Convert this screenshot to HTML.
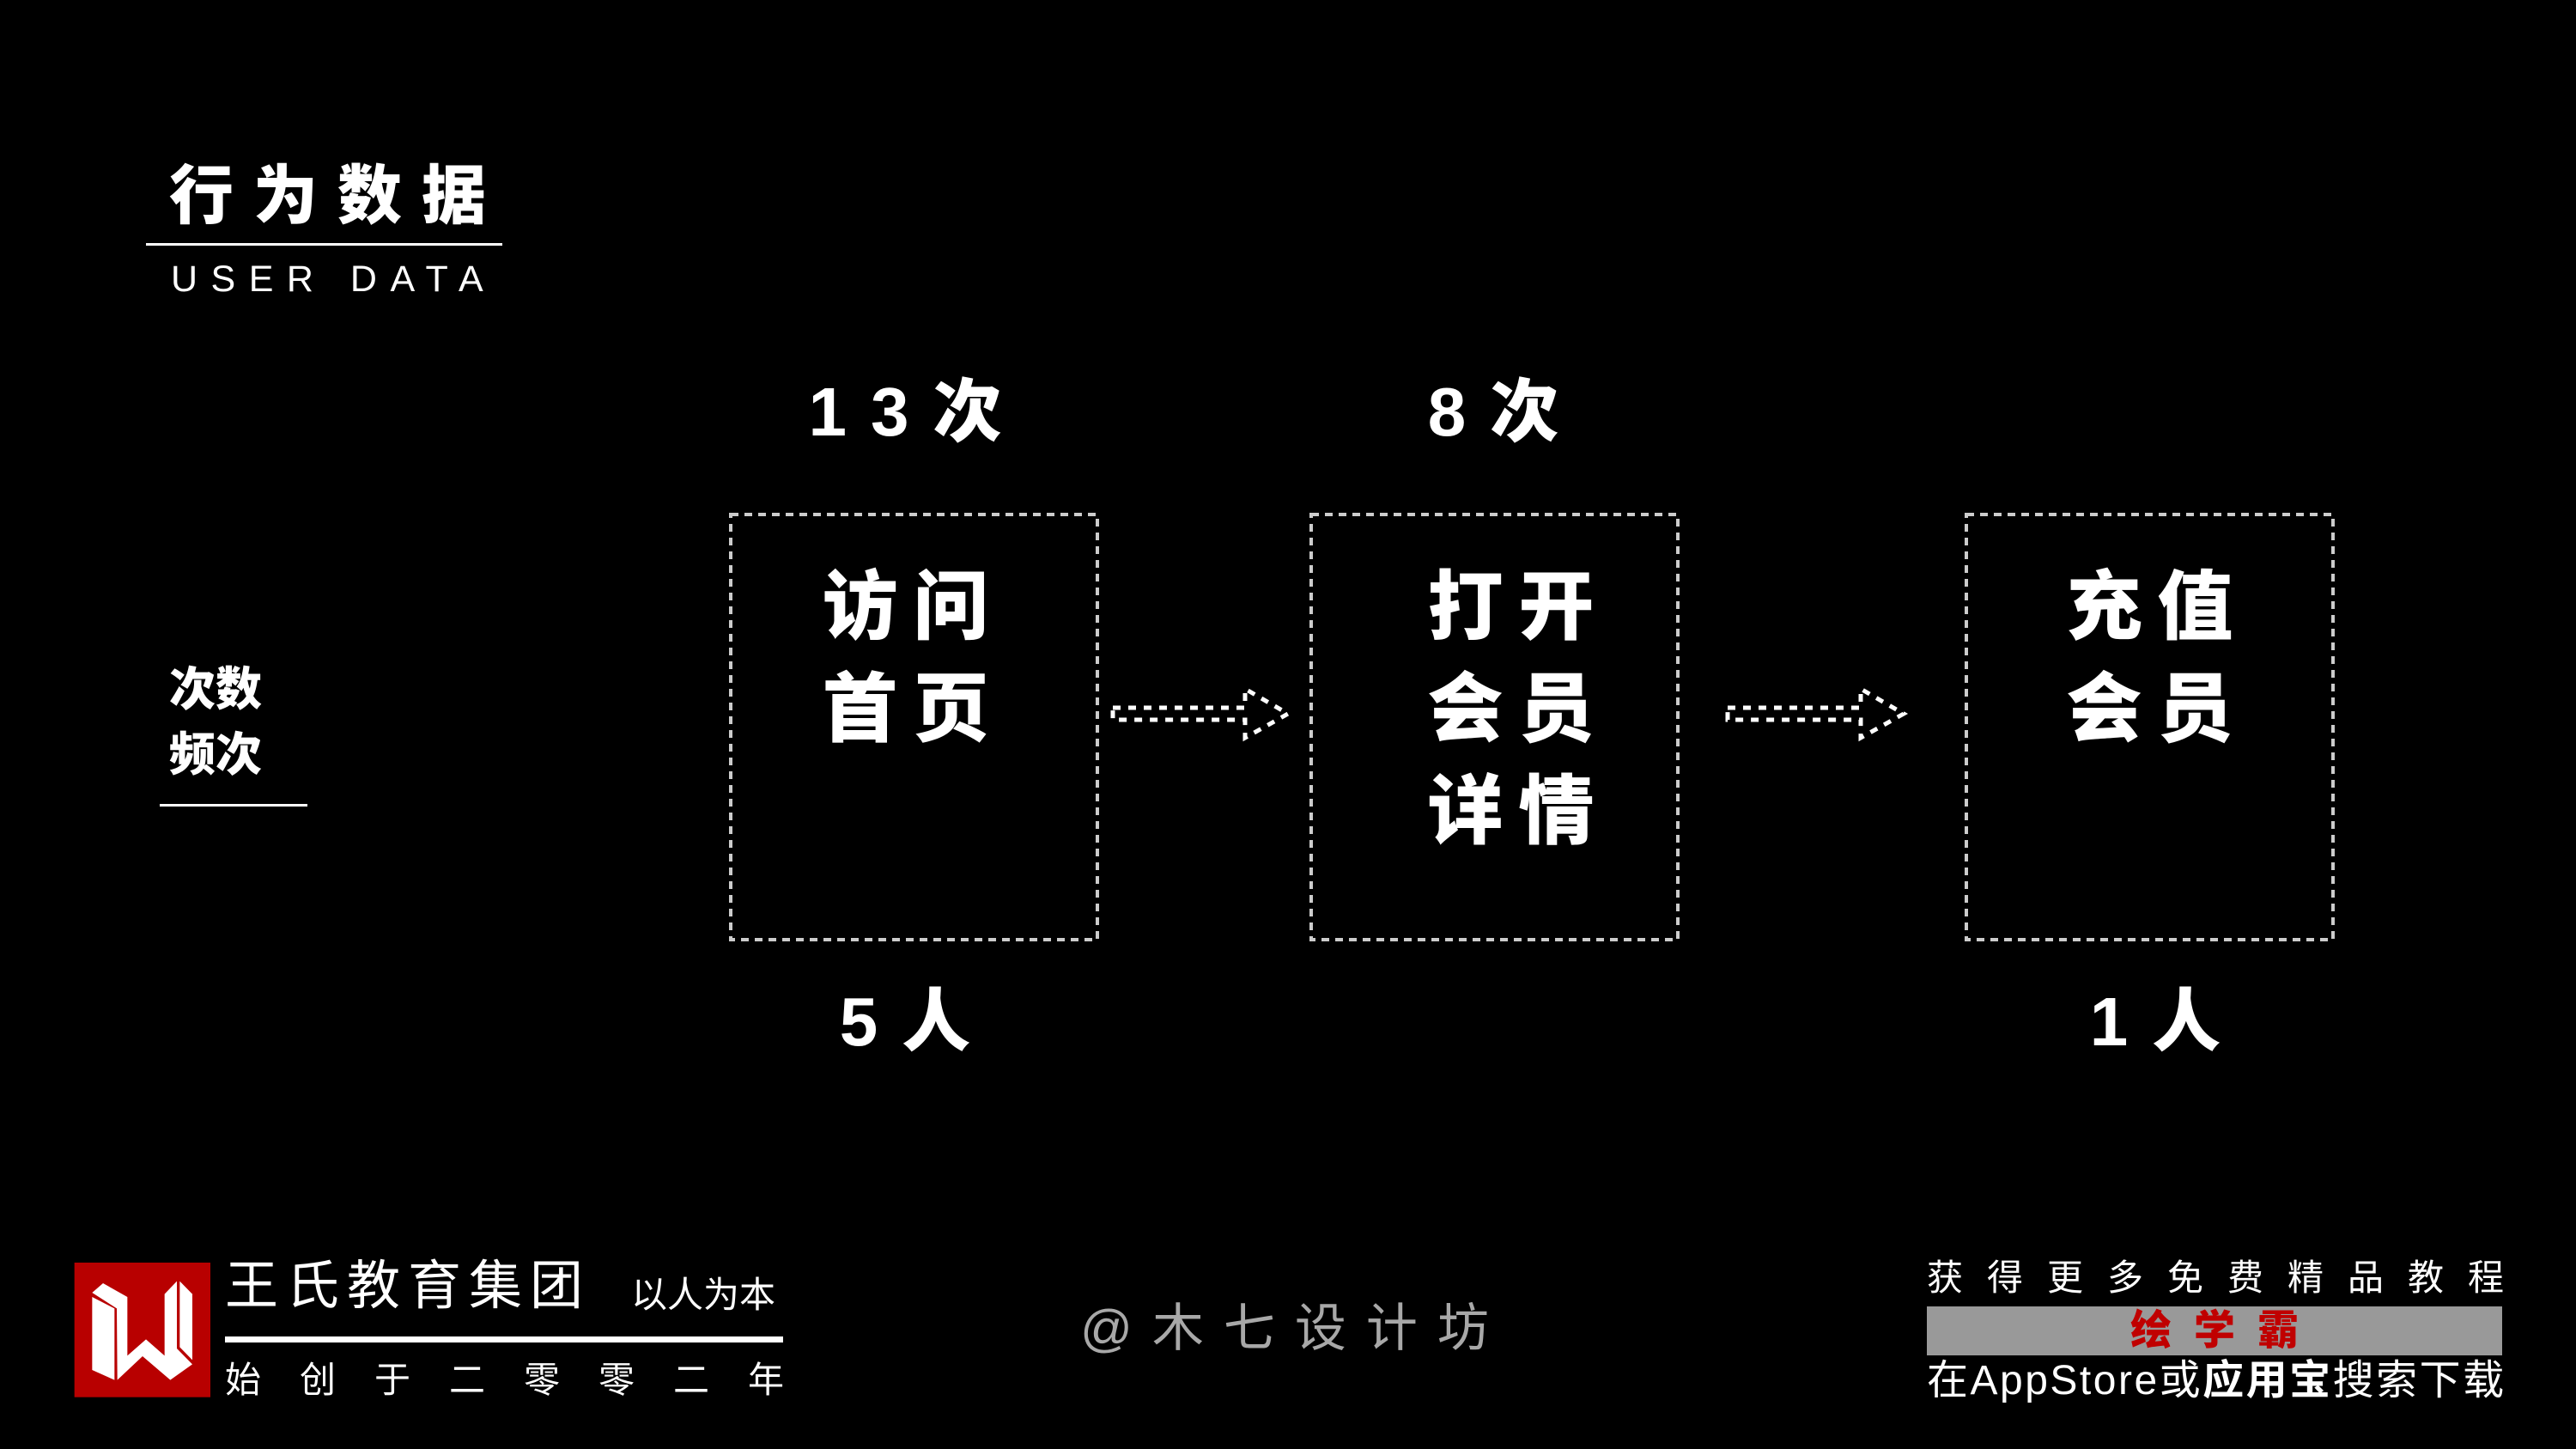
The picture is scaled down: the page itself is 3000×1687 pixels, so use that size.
<!DOCTYPE html>
<html><head><meta charset="utf-8"><style>
html,body{margin:0;padding:0;background:#000;}
body{width:3000px;height:1687px;position:relative;overflow:hidden;font-family:"Liberation Sans","Noto Sans CJK SC",sans-serif;color:#fff;}
.a{position:absolute;white-space:nowrap;}
.b{font-family:"Liberation Sans","Noto Sans CJK SC",sans-serif;font-weight:900;}
.box{position:absolute;top:597px;width:431px;height:499px;}
.bt{position:absolute;left:0;width:100%;text-align:center;font-size:88px;line-height:119px;letter-spacing:18px;padding-left:18px;box-sizing:border-box;font-weight:900;top:50px;}
.num{position:absolute;width:400px;text-align:center;font-size:80px;font-weight:900;letter-spacing:28px;padding-left:28px;box-sizing:border-box;line-height:100px;}
</style></head><body>

<div class="a b" style="left:197px;top:178px;font-size:75px;line-height:100px;letter-spacing:23px;">行为数据</div>
<div class="a" style="left:170px;top:283px;width:415px;height:3px;background:#fff;"></div>
<div class="a" style="left:199px;top:300px;font-size:43px;line-height:50px;letter-spacing:15.5px;">USER DATA</div>

<div class="a b" style="left:197px;top:765px;font-size:54px;line-height:76px;">次数<br>频次</div>
<div class="a" style="left:186px;top:936px;width:172px;height:3px;background:#fff;"></div>

<div class="num" style="left:854px;top:430px;">13次</div>
<div class="num" style="left:1539px;top:430px;">8次</div>
<div class="num" style="left:854px;top:1140px;">5人</div>
<div class="num" style="left:2310px;top:1140px;">1人</div>

<svg class="a" style="left:0;top:0" width="3000" height="1687" viewBox="0 0 3000 1687">
<g fill="none" stroke="#ccc" stroke-width="4" stroke-dasharray="9 7">
<rect x="851" y="599" width="427" height="495"/>
<rect x="1527" y="599" width="427" height="495"/>
<rect x="2290" y="599" width="427" height="495"/>
</g>
<g fill="none" stroke="#fff" stroke-width="5" stroke-dasharray="9 9">
<path d="M1296 824 H1450 V802 L1500 831 L1450 859 V838 H1296 Z"/>
<path d="M2012 824 H2167 V802 L2217 831 L2167 859 V838 H2012 Z"/>
</g>
</svg>

<div class="box" style="left:839px;"><div class="bt">访问<br>首页</div></div>
<div class="box" style="left:1544px;"><div class="bt">打开<br>会员<br>详情</div></div>
<div class="box" style="left:2288px;"><div class="bt">充值<br>会员</div></div>

<svg class="a" style="left:80px;top:1460px" width="180" height="180" viewBox="0 0 540 540">
<rect x="20" y="30" width="475" height="470" fill="#b80000"/>
<polygon fill="#fff" points="82,150 160,190 160,440 82,405"/>
<polygon fill="#fff" points="82,135 120,102 205,150 205,355 270,298 335,355 335,140 378,95 378,330 432,385 355,440 258,357 170,440 168,190"/>
<polygon fill="#fff" points="388,95 432,140 432,370 388,325"/>
</svg>
<div class="a" style="left:262px;top:1462px;font-size:62px;line-height:72px;letter-spacing:9px;">王氏教育集团</div>
<div class="a" style="left:735px;top:1483px;font-size:42px;line-height:50px;">以人为本</div>
<div class="a" style="left:262px;top:1556px;width:650px;height:7px;background:#fff;"></div>
<div class="a" style="left:262px;top:1580px;font-size:42px;line-height:54px;letter-spacing:45px;">始创于二零零二年</div>

<div class="a" style="left:1258px;top:1512px;font-size:60px;line-height:70px;letter-spacing:23px;color:#a8a8a8;">@木七设计坊</div>

<div class="a" style="left:2244px;top:1463px;font-size:42px;line-height:50px;letter-spacing:28px;">获得更多免费精品教程</div>
<div class="a" style="left:2244px;top:1521px;width:670px;height:57px;background:#999;text-align:center;color:#c00000;font-weight:900;font-size:48px;line-height:57px;letter-spacing:26px;padding-left:26px;box-sizing:border-box;">绘学霸</div>
<div class="a" style="left:2244px;top:1578px;font-size:48px;line-height:60px;letter-spacing:2.5px;">在AppStore或<b>应用宝</b>搜索下载</div>
</body></html>
